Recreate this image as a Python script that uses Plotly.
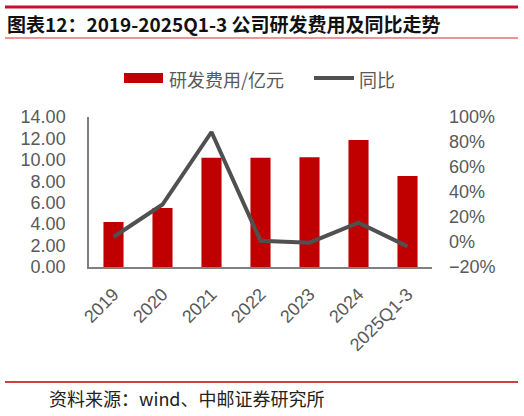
import plotly.graph_objects as go

categories = ["2019", "2020", "2021", "2022", "2023", "2024", "2025Q1-3"]
rd_expense = [4.2, 5.5, 10.2, 10.2, 10.25, 11.85, 8.5]   # 研发费用/亿元
yoy = [0.04, 0.30, 0.88, 0.01, -0.005, 0.155, -0.035]    # 同比

W, H = 524, 416
L, R, T, B = 89, 92, 117, 149
PW, PH = W - L - R, H - T - B


def px(x):
    return (x - L) / PW


def py(y):
    return (H - B - y) / PH


fig = go.Figure()
fig.add_trace(go.Bar(x=categories, y=rd_expense, name="研发费用/亿元",
                     marker=dict(color="#C00000", line=dict(width=0)), width=0.41))
fig.add_trace(go.Scatter(x=categories, y=yoy, name="同比", yaxis="y2", mode="lines",
                         line=dict(color="#505050", width=4)))

tick_font = dict(family="Liberation Sans, Arial", size=18, color="#595959")

fig.update_layout(
    width=W, height=H,
    margin=dict(l=L, r=R, t=T, b=B),
    paper_bgcolor="white", plot_bgcolor="white",
    showlegend=False,
    title=dict(text="<b>图表12：2019-2025Q1-3 公司研发费用及同比走势</b>",
               x=7 / W, xanchor="left", y=1 - 25 / H, yanchor="middle",
               font=dict(family="Noto Sans CJK SC", size=19, color="#111111")),
    xaxis=dict(showline=True, linecolor="#808080", linewidth=1.5, showgrid=False,
               tickangle=-45, tickfont=tick_font, ticks="", ticklabelstandoff=8),
    yaxis=dict(range=[0, 14], dtick=2, tickformat=".2f", showgrid=False, zeroline=False,
               showline=True, linecolor="#808080", linewidth=1.5, tickfont=tick_font,
               ticks="", ticklabelstandoff=18),
    yaxis2=dict(range=[-0.2, 1.0], dtick=0.2, tickformat=".0%", overlaying="y", side="right",
                showgrid=False, zeroline=False, showline=False, tickfont=tick_font,
                ticks="", ticklabelstandoff=16),
)

shapes = [
    dict(type="line", xref="paper", yref="paper", x0=px(5), x1=px(518), y0=py(7), y1=py(7),
         line=dict(color="#C8102E", width=3)),
    dict(type="line", xref="paper", yref="paper", x0=px(5), x1=px(518), y0=py(38), y1=py(38),
         line=dict(color="#E57373", width=1.5)),
    dict(type="line", xref="paper", yref="paper", x0=px(5), x1=px(518), y0=py(382), y1=py(382),
         line=dict(color="#C00000", width=1.5)),
    # legend swatches
    dict(type="rect", xref="paper", yref="paper", x0=px(124), x1=px(163), y0=py(83), y1=py(73),
         fillcolor="#C00000", line=dict(width=0)),
    dict(type="line", xref="paper", yref="paper", x0=px(314), x1=px(354), y0=py(78), y1=py(78),
         line=dict(color="#505050", width=4)),
]
fig.update_layout(shapes=shapes)

legend_font = dict(family="Noto Sans CJK SC", size=18, color="#595959")
fig.add_annotation(text="研发费用/亿元", xref="paper", yref="paper", x=px(167), y=py(79),
                   xanchor="left", yanchor="middle", showarrow=False, font=legend_font)
fig.add_annotation(text="同比", xref="paper", yref="paper", x=px(357), y=py(79),
                   xanchor="left", yanchor="middle", showarrow=False, font=legend_font)
fig.add_annotation(text="资料来源：wind、中邮证券研究所", xref="paper", yref="paper",
                   x=px(47), y=py(398), xanchor="left", yanchor="middle", showarrow=False,
                   font=dict(family="Noto Sans CJK SC", size=18, color="#222222"))

fig.write_html("out.html", config={"displayModeBar": False},
               post_script="document.body.style.margin='0';")
